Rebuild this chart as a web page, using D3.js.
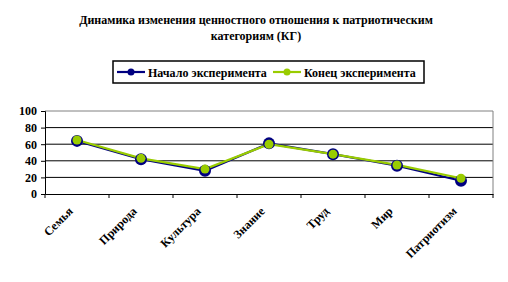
<!DOCTYPE html>
<html>
<head>
<meta charset="utf-8">
<script src="https://cdn.jsdelivr.net/npm/d3@7"></script>
<style>
  body { margin: 0; background: #fff; }
</style>
</head>
<body>
<script>
const CATEGORIES = ["Семья", "Природа", "Культура", "Знание", "Труд", "Мир", "Патриотизм"];
const START_VALUES = [64, 42, 28, 61, 48, 34, 16];
const END_VALUES = [65, 43, 30, 60, 48, 35, 19];
const Y_TICKS = [0, 20, 40, 60, 80, 100];
const SERIES_NAMES = ["Начало эксперимента", "Конец эксперимента"];

const W = 508, H = 282;
const plot = {left: 45, right: 493, top: 111, bottom: 194};
const FONT = "Liberation Serif";

const svg = d3.select("body").append("svg")
  .attr("width", W)
  .attr("height", H);

// title
const TITLE = ["Динамика изменения ценностного отношения к патриотическим", "категориям (КГ)"];
svg.selectAll(".title")
  .data(TITLE)
  .enter()
  .append("text")
  .attr("x", 256).attr("y", (d, i) => 24 + i * 16)
  .attr("text-anchor", "middle")
  .attr("font-family", FONT).attr("font-weight", "bold")
  .attr("font-size", "12px")
  .text(d => d);

let x = d3.scaleBand().domain(CATEGORIES).range([plot.left, plot.right]);
let y = d3.scaleLinear().domain([0, 100]).range([plot.bottom, plot.top]);

// gridlines
svg.selectAll(".grid")
  .data(Y_TICKS.filter(t => t > 0 && t < 100))
  .enter()
  .append("line")
  .attr("x1", plot.left).attr("x2", plot.right)
  .attr("y1", d => y(d)).attr("y2", d => y(d))
  .attr("stroke", "#000").attr("stroke-width", 1);

// plot area border (top/right grey)
svg.append("path")
  .attr("d", `M${plot.left},${y(100)}H${plot.right}V${plot.bottom}`)
  .attr("fill", "none")
  .attr("stroke", "#808080").attr("stroke-width", 1);

// y axis
let yAxis = svg.append("g")
  .attr("transform", `translate(${plot.left},0)`)
  .call(d3.axisLeft(y).tickValues(Y_TICKS).tickSize(4).tickPadding(4));
yAxis.select(".domain").attr("stroke", "#000");
yAxis.selectAll("text")
  .attr("font-family", FONT).attr("font-weight", "bold")
  .attr("font-size", "12px").attr("fill", "#000");

// x axis
let xAxis = svg.append("g")
  .attr("transform", `translate(0,${plot.bottom})`)
  .call(d3.axisBottom(x).tickSize(0).tickFormat(""));
xAxis.select(".domain").attr("stroke", "#000");
svg.selectAll(".xtick")
  .data(d3.range(CATEGORIES.length + 1))
  .enter()
  .append("line")
  .attr("x1", i => plot.left + i * x.step()).attr("x2", i => plot.left + i * x.step())
  .attr("y1", plot.bottom).attr("y2", plot.bottom + 4)
  .attr("stroke", "#000");

svg.selectAll(".xlabel")
  .data(CATEGORIES)
  .enter()
  .append("text")
  .attr("text-anchor", "end")
  .attr("font-family", FONT).attr("font-weight", "bold")
  .attr("font-size", "12px")
  .attr("transform", d => `translate(${x(d) + x.bandwidth() / 2 - 3.5},${plot.bottom + 18}) rotate(-45)`)
  .text(d => d);

// series
const series = [
  {name: SERIES_NAMES[0], values: START_VALUES, color: "#000080", r: 6},
  {name: SERIES_NAMES[1], values: END_VALUES, color: "#99cc00", r: 4.5}
];

let line = d3.line()
  .x((d, i) => x(CATEGORIES[i]) + x.bandwidth() / 2)
  .y(d => y(d));

series.forEach(s => {
  svg.append("path")
    .attr("d", line(s.values))
    .attr("fill", "none")
    .attr("stroke", s.color)
    .attr("stroke-width", 2.2);
});
series.forEach(s => {
  svg.selectAll(null)
    .data(s.values)
    .enter()
    .append("circle")
    .attr("cx", (d, i) => x(CATEGORIES[i]) + x.bandwidth() / 2)
    .attr("cy", d => y(d))
    .attr("r", s.r)
    .attr("fill", s.color);
});

// legend
let legend = svg.append("g");
legend.append("rect")
  .attr("x", 113).attr("y", 61)
  .attr("width", 311).attr("height", 22)
  .attr("fill", "#fff")
  .attr("stroke", "#000").attr("stroke-width", 1.5);

const legendX = [117, 273];
series.forEach((s, i) => {
  let g = legend.append("g").attr("transform", `translate(${legendX[i]},72)`);
  g.append("line").attr("x1", 0).attr("x2", 28)
    .attr("stroke", s.color).attr("stroke-width", 2.2);
  g.append("circle").attr("cx", 14).attr("r", 3.5).attr("fill", s.color);
  g.append("text").attr("x", 31).attr("y", 4.5)
    .attr("font-family", FONT).attr("font-weight", "bold")
    .attr("font-size", "12px")
    .text(s.name);
});
</script>
</body>
</html>
